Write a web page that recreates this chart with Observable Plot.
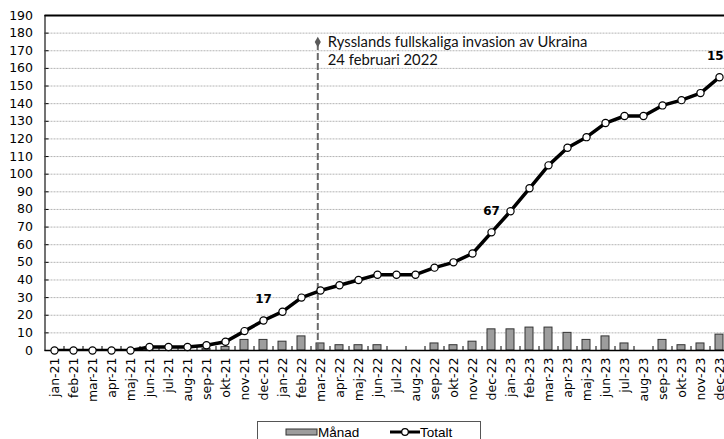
<!DOCTYPE html>
<html><head><meta charset="utf-8">
<script src="https://cdn.jsdelivr.net/npm/d3@7"></script>
<script src="https://cdn.jsdelivr.net/npm/@observablehq/plot@0.6"></script>
<style>
html,body{margin:0;padding:0;background:#fff;overflow:hidden;width:724px;height:439px;position:relative}
#chart{width:740px;overflow:visible}
#chart svg{display:block;max-width:none !important;width:740px;height:420px}
#legend{position:absolute;left:257px;top:421px;width:224px;height:26px;border:1px solid #555;box-sizing:border-box;background:#fff}
</style></head><body>
<div id="chart"></div>
<div id="legend"></div>
<script>
const months = ["jan-21","feb-21","mar-21","apr-21","maj-21","jun-21","jul-21","aug-21","sep-21","okt-21","nov-21","dec-21",
  "jan-22","feb-22","mar-22","apr-22","maj-22","jun-22","jul-22","aug-22","sep-22","okt-22","nov-22","dec-22",
  "jan-23","feb-23","mar-23","apr-23","maj-23","jun-23","jul-23","aug-23","sep-23","okt-23","nov-23","dec-23"];
const monthly = [0,0,0,0,0,2,0,0,1,2,6,6, 5,8,4,3,3,3,0,0,4,3,5,12, 12,13,13,10,6,8,4,0,6,3,4,9];
const total = [0,0,0,0,0,2,2,2,3,5,11,17, 22,30,34,37,40,43,43,43,47,50,55,67, 79,92,105,115,121,129,133,133,139,142,146,155];
const yTicks = [0,10,20,30,40,50,60,70,80,90,100,110,120,130,140,150,160,170,180,190];
const labeledMonths = ["dec-21","dec-22","dec-23"];
const seriesNames = ["Månad","Totalt"];
const invasionLine1 = "Rysslands fullskaliga invasion av Ukraina";
const invasionLine2 = "24 februari 2022";
const invasionDate = {year: 2022, month: 2, day: 24};
const invasionY = 175;

const rows = months.map((m, i) => ({i, m, monthly: monthly[i], total: total[i]}));
const idx = rows.map(d => d.i);
const bounds = idx.map(i => i + 0.5);
const dim = new Date(invasionDate.year, invasionDate.month, 0).getDate();
const invX = (invasionDate.year - 2021) * 12 + (invasionDate.month - 1) + invasionDate.day / dim;
const invasion = [{x: invX, y: invasionY}];

const chart = Plot.plot({
  width: 740, height: 420,
  marginLeft: 44.5, marginRight: 11.5, marginTop: 15, marginBottom: 70,
  x: {domain: [-0.5, months.length - 0.5], axis: null},
  y: {domain: [0, 190], axis: null},
  style: {fontFamily: "DejaVu Sans", fontSize: "12.5px", color: "#000", background: "#fff", maxWidth: "none"},
  marks: [
    Plot.ruleY(yTicks.filter(d => d > 0 && d < 190), {stroke: "#b4b4b4", strokeWidth: 1, strokeDasharray: "2,1"}),
    Plot.rectY(rows, {x1: d => d.i - 0.5, x2: d => d.i + 0.5, y: "monthly", insetLeft: 5.5, insetRight: 5.5,
      fill: "#9d9d9d", stroke: "#333", strokeWidth: 1}),
    Plot.ruleX(invasion, {x: "x", y1: 0, y2: "y", stroke: "#6a6a6a", strokeWidth: 2, strokeDasharray: "7,3"}),
    Plot.dot(invasion, {x: "x", y: "y", symbol: "diamond", r: 3.2, fill: "#5a5a5a", stroke: "none"}),
    Plot.text(invasion, {x: "x", y: "y", text: () => invasionLine1, textAnchor: "start", dx: 10, dy: 0,
      fontFamily: "Lato", fontSize: 14.8, fill: "#111"}),
    Plot.text(invasion, {x: "x", y: "y", text: () => invasionLine2, textAnchor: "start", dx: 10, dy: 18.5,
      fontFamily: "Lato", fontSize: 14.8, fill: "#111"}),
    Plot.axisX({ticks: bounds.slice(0, -1), tickSize: -4, tickFormat: () => "", label: null, anchor: "bottom", stroke: "#000"}),
    Plot.axisX({ticks: idx, tickSize: 0, tickPadding: 7, tickRotate: -90, tickFormat: i => months[i], label: null, anchor: "bottom"}),
    Plot.axisY({ticks: yTicks, tickSize: 0, tickPadding: 12, label: null, anchor: "left"}),
    Plot.axisY({ticks: yTicks, tickSize: -4, tickFormat: () => "", label: null, anchor: "left"}),
    Plot.ruleX([-0.5], {stroke: "#444", strokeWidth: 1.5}),
    Plot.ruleX([months.length - 0.5], {stroke: "#000", strokeWidth: 1.5}),
    Plot.ruleY([190], {stroke: "#000", strokeWidth: 2}),
    Plot.ruleY([0], {stroke: "#000", strokeWidth: 1.5}),
    Plot.line(rows, {x: "i", y: "total", stroke: "#000", strokeWidth: 3.5, clip: true}),
    Plot.dot(rows, {x: "i", y: "total", r: 3.6, fill: "#fff", stroke: "#000", strokeWidth: 1.2}),
    Plot.text(rows.filter(d => labeledMonths.includes(d.m)), {x: "i", y: "total", text: d => String(d.total), dy: -21,
      fontWeight: "bold", fontSize: 12})
  ]
});
document.getElementById("chart").append(chart);

// legend
const lg = d3.select("#legend").append("svg").attr("width", 222).attr("height", 24)
  .style("font-family", "'Liberation Sans Narrow', 'Liberation Sans'").style("font-size", "13.5px");
lg.append("rect").attr("x", 28).attr("y", 7).attr("width", 31).attr("height", 6).attr("fill", "#9d9d9d").attr("stroke", "#333");
lg.append("text").attr("x", 60).attr("y", 14.5).text(seriesNames[0]);
lg.append("line").attr("x1", 132).attr("x2", 162).attr("y1", 10).attr("y2", 10).attr("stroke", "#000").attr("stroke-width", 3);
lg.append("circle").attr("cx", 147).attr("cy", 10).attr("r", 3.3).attr("fill", "#fff").attr("stroke", "#000").attr("stroke-width", 1.2);
lg.append("text").attr("x", 162).attr("y", 14.5).text(seriesNames[1]);
</script>
</body></html>
